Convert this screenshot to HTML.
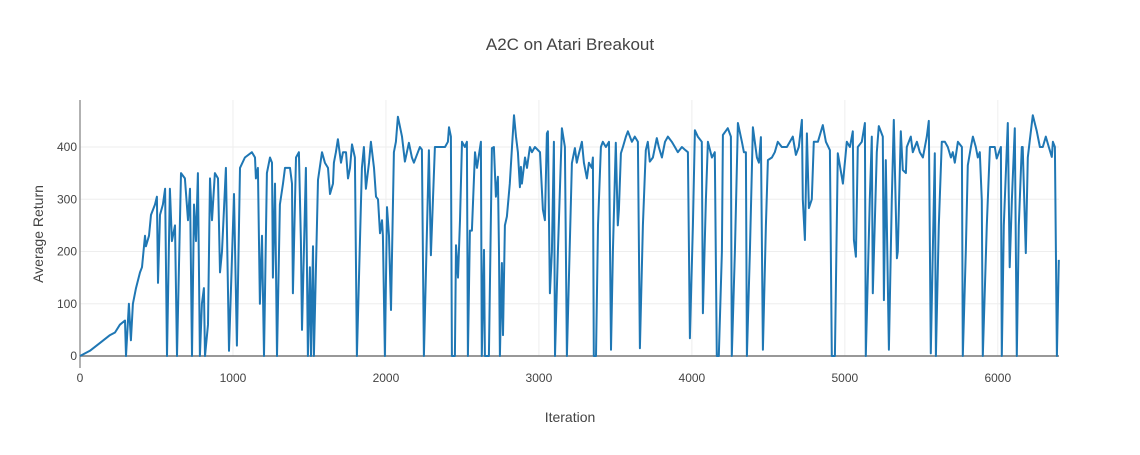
<!DOCTYPE html>
<html><head><meta charset="utf-8"><style>
body{margin:0;background:#fff;}
svg text{font-family:"Liberation Sans",sans-serif;}
</style></head><body>
<svg id="chart" width="1140" height="450" xmlns="http://www.w3.org/2000/svg">
<text x="570" y="50" text-anchor="middle" font-size="17" fill="#444">A2C on Atari Breakout</text>
<g id="grid"></g>
<g id="axes"></g>
<path id="line" fill="none" stroke="#1f77b4" stroke-width="2" stroke-linejoin="round"/>
<text x="570" y="422" text-anchor="middle" font-size="14" fill="#444">Iteration</text>
<text x="43" y="234" text-anchor="middle" font-size="14" fill="#444" transform="rotate(-90 43 234)">Average Return</text>
</svg>
<script>
const xTicks=[0,1000,2000,3000,4000,5000,6000];
const yTicks=[0,100,200,300,400];
const iterations=[0,65,131,196,229,261,294,301,320,333,346,366,392,405,425,431,451,464,490,503,510,523,542,556,569,588,601,621,634,660,686,706,719,732,745,758,771,784,797,810,817,837,850,863,882,902,915,928,954,974,1007,1026,1046,1078,1124,1144,1150,1163,1176,1190,1203,1222,1242,1255,1261,1275,1288,1307,1327,1340,1373,1386,1392,1412,1431,1444,1451,1477,1490,1503,1510,1523,1529,1556,1582,1601,1621,1634,1654,1660,1673,1686,1706,1719,1739,1752,1765,1778,1797,1810,1843,1856,1869,1889,1902,1922,1935,1948,1961,1974,1980,1993,2007,2020,2033,2052,2065,2078,2105,2124,2150,2170,2183,2209,2222,2235,2248,2281,2294,2320,2353,2386,2405,2412,2425,2431,2451,2458,2471,2484,2497,2516,2529,2536,2549,2562,2582,2595,2621,2627,2641,2647,2673,2693,2706,2719,2732,2739,2745,2758,2765,2778,2791,2810,2824,2837,2850,2863,2876,2882,2889,2909,2922,2941,2954,2974,3007,3026,3039,3052,3059,3072,3085,3098,3105,3124,3150,3170,3183,3216,3235,3248,3255,3281,3294,3314,3327,3346,3353,3359,3373,3386,3405,3418,3438,3458,3471,3484,3503,3516,3523,3536,3549,3569,3582,3608,3627,3647,3660,3680,3699,3712,3725,3745,3771,3784,3804,3824,3843,3869,3889,3908,3935,3954,3974,3987,4007,4020,4039,4065,4072,4092,4105,4131,4150,4163,4176,4196,4203,4235,4255,4261,4281,4301,4327,4340,4353,4360,4379,4399,4425,4438,4451,4464,4484,4497,4523,4542,4562,4588,4621,4641,4660,4680,4699,4719,4725,4739,4752,4765,4784,4797,4824,4856,4876,4902,4915,4935,4954,4980,4987,5013,5033,5052,5059,5072,5085,5111,5131,5137,5163,5176,5183,5209,5222,5248,5255,5268,5288,5307,5320,5340,5346,5366,5379,5399,5405,5431,5444,5471,5490,5510,5536,5549,5562,5575,5588,5595,5614,5634,5654,5673,5693,5706,5719,5739,5765,5771,5791,5804,5824,5837,5856,5869,5882,5895,5902,5928,5948,5980,5993,6020,6026,6039,6065,6078,6092,6111,6124,6137,6157,6163,6183,6196,6209,6229,6255,6275,6294,6314,6333,6353,6360,6373,6386,6399];
const returns=[0,10,25,40,45,60,68,0,100,30,100,130,160,170,230,210,230,270,290,305,140,270,290,320,0,320,220,250,0,350,340,260,320,0,290,220,350,0,100,130,0,60,340,260,350,340,160,200,360,10,310,20,360,380,390,380,340,360,100,230,0,350,380,370,150,330,0,290,330,360,360,330,120,380,390,220,50,360,0,170,0,210,0,337,390,370,360,310,330,370,390,415,370,390,390,340,360,405,380,0,360,400,320,370,410,360,305,300,235,260,230,0,285,230,88,390,410,458,420,372,408,380,370,390,400,395,0,394,193,400,400,400,410,438,420,0,0,212,150,260,410,400,410,0,240,240,390,360,410,0,203,0,0,398,400,305,343,200,0,178,40,250,267,330,400,461,420,390,323,362,330,380,360,400,390,400,390,280,260,426,430,120,200,410,0,200,436,400,0,369,398,370,380,410,370,340,370,360,380,0,0,250,400,410,400,410,12,200,408,250,280,388,400,420,430,410,420,410,15,250,394,410,372,380,417,400,380,410,420,410,400,390,400,395,390,34,250,432,420,410,82,300,410,380,390,0,0,200,423,436,420,0,200,446,410,390,390,0,200,438,380,370,419,12,250,375,380,390,410,400,400,410,420,385,400,452,300,222,426,283,300,410,410,442,410,394,0,0,388,343,330,410,400,430,222,190,400,410,446,0,300,420,120,390,440,420,107,375,12,300,452,187,200,430,356,350,400,420,390,410,390,380,420,450,5,200,388,0,250,410,410,400,380,390,370,410,400,0,200,365,400,420,400,380,390,298,0,250,400,400,378,400,0,250,446,170,300,436,0,250,400,400,197,380,413,461,430,400,400,420,400,381,410,400,0,184];

const X0=80,X1=1059,Y0=356,Ytop=100;
const xMax=6400,yMax=490;
const xs=v=>X0+(v/xMax)*(X1-X0);
const ys=v=>Y0-(v/yMax)*(Y0-Ytop);
const NS="http://www.w3.org/2000/svg";
const grid=document.getElementById('grid'),axes=document.getElementById('axes');
function mk(tag,attrs,parent){const e=document.createElementNS(NS,tag);for(const k in attrs)e.setAttribute(k,attrs[k]);parent.appendChild(e);return e;}
xTicks.forEach(t=>{
  if(t>0){const g=mk('line',{x1:xs(t),x2:xs(t),y1:Ytop,y2:Y0,stroke:'#eee','stroke-width':1},grid);
  
  }
  const tx=mk('text',{x:xs(t),y:Y0+26,'text-anchor':'middle','font-size':12,fill:'#444'},axes);
  tx.textContent=t;
  
  
});
yTicks.forEach(t=>{
  if(t>0){const g=mk('line',{x1:X0,x2:X1,y1:ys(t),y2:ys(t),stroke:'#eee','stroke-width':1},grid);
  
  }
  const tx=mk('text',{x:X0-3,y:ys(t)+4,'text-anchor':'end','font-size':12,fill:'#444'},axes);
  tx.textContent=t;
  
  
});
const ya=mk('line',{x1:X0,x2:X0,y1:Ytop,y2:Y0+12,stroke:'#999','stroke-width':1.5},axes);


const xa=mk('line',{x1:X0,x2:X1,y1:Y0,y2:Y0,stroke:'#777','stroke-width':1.5},axes);


let d='';
iterations.forEach((it,i)=>{d+=(i?'L':'M')+xs(it).toFixed(1)+','+ys(returns[i]).toFixed(1);});
document.getElementById('line').setAttribute('d',d);
</script>
</body></html>
